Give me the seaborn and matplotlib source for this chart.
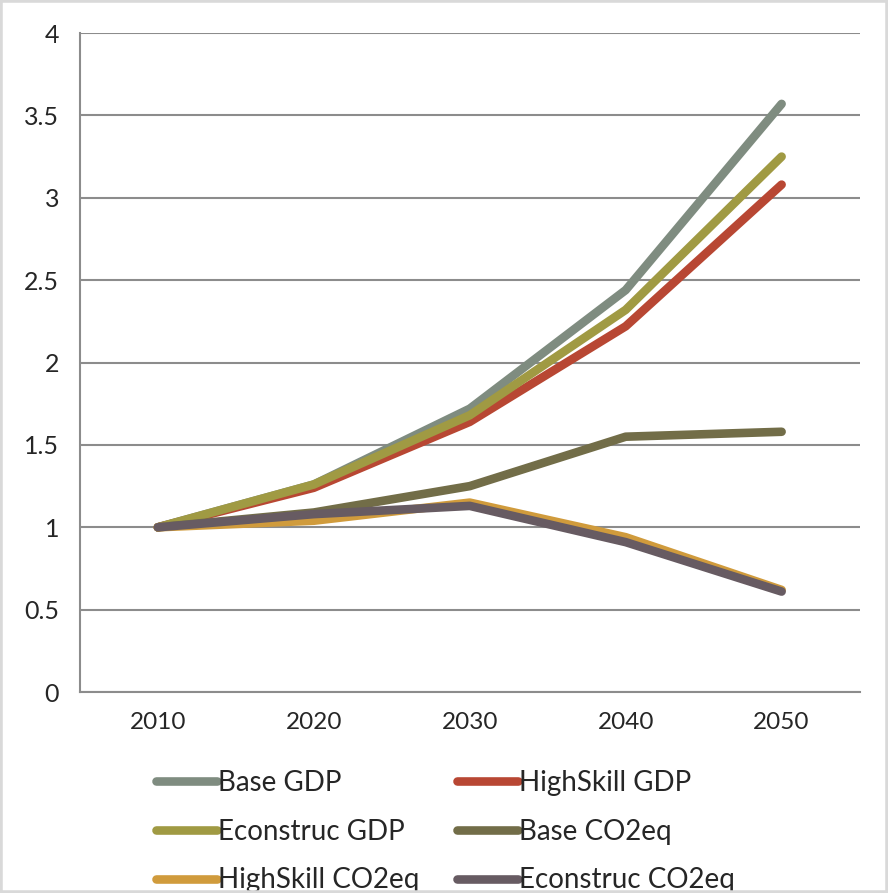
import numpy as np
import pandas as pd
import matplotlib
matplotlib.use('Agg')
import matplotlib.pyplot as plt
import seaborn as sns


years = ['2010', '2020', '2030', '2040', '2050']

base_gdp = [1.0, 1.26, 1.72, 2.44, 3.57]
highskill_gdp = [1.0, 1.24, 1.64, 2.22, 3.08]
econstruc_gdp = [1.0, 1.26, 1.68, 2.32, 3.25]
base_co2 = [1.0, 1.09, 1.25, 1.55, 1.58]
highskill_co2 = [1.0, 1.04, 1.15, 0.94, 0.62]
econstruc_co2 = [1.0, 1.08, 1.13, 0.91, 0.61]

series = ['Base GDP', 'HighSkill GDP', 'Econstruc GDP',
          'Base CO2eq', 'HighSkill CO2eq', 'Econstruc CO2eq']
colors = ['#7F8C80', '#B84733', '#A09A43', '#726D48', '#D09B3C', '#675B62']



rows = []
for name, vals in zip(series, [base_gdp, highskill_gdp, econstruc_gdp,
                               base_co2, highskill_co2, econstruc_co2]):
    for i, v in enumerate(vals):
        rows.append({'pos': i, 'value': v, 'series': name})
df = pd.DataFrame(rows)

sns.set_style('white')
plt.rcParams['font.family'] = ['Lato', 'DejaVu Sans']

fig = plt.figure(figsize=(8.88, 8.93), dpi=100)
ax = fig.add_axes([0.09, 0.225, 0.878, 0.738])

sns.lineplot(data=df, x='pos', y='value', hue='series', hue_order=series,
             palette=colors, linewidth=6.2, solid_capstyle='round',
             ax=ax, legend=True, zorder=3)

# axes styling, excel-like
ax.set_ylim(0, 4)
ax.set_xlim(-0.5, 4.5)
ax.set_yticks(np.arange(0, 4.01, 0.5))
ax.set_yticklabels(['0', '0.5', '1', '1.5', '2', '2.5', '3', '3.5', '4'])
ax.set_xticks(range(len(years)))
ax.set_xticklabels(years)
ax.set_xticks(np.arange(-0.5, 4.51, 1), minor=True)
ax.tick_params(axis='x', which='major', length=0, pad=14, labelsize=17.5)
ax.tick_params(axis='x', which='minor', length=7, color='#8c8c8c', width=1.3)
ax.tick_params(axis='y', length=7, color='#8c8c8c', width=1.3, pad=8, labelsize=18)
ax.grid(axis='y', color='#8c8c8c', linewidth=1.5, zorder=0)
ax.set_axisbelow(True)
for side in ['top', 'right']:
    ax.spines[side].set_visible(False)
for side in ['left', 'bottom']:
    ax.spines[side].set_color('#8c8c8c')
    ax.spines[side].set_linewidth(1.5)
ax.set_xlabel('')
ax.set_ylabel('')

# legend, 2 columns row-wise like the original
handles, labels = ax.get_legend_handles_labels()
lookup = dict(zip(labels, handles))
order = ['Base GDP', 'Econstruc GDP', 'HighSkill CO2eq',
         'HighSkill GDP', 'Base CO2eq', 'Econstruc CO2eq']
leg = ax.legend([lookup[o] for o in order], order, ncol=2,
                loc='upper left', bbox_to_anchor=(0.097, -0.118),
                borderaxespad=0, borderpad=0,
                frameon=False, fontsize=20, handlelength=2.2,
                handletextpad=0.05, columnspacing=1.35, labelspacing=0.82)
for h in leg.get_lines():
    h.set_linewidth(6.2)
    h.set_solid_capstyle('round')

fig.patches.append(plt.Rectangle((0, 0), 1, 1, transform=fig.transFigure,
                                 fill=False, edgecolor='#d9d9d9', linewidth=4))

fig.savefig('out.png', dpi=100)
